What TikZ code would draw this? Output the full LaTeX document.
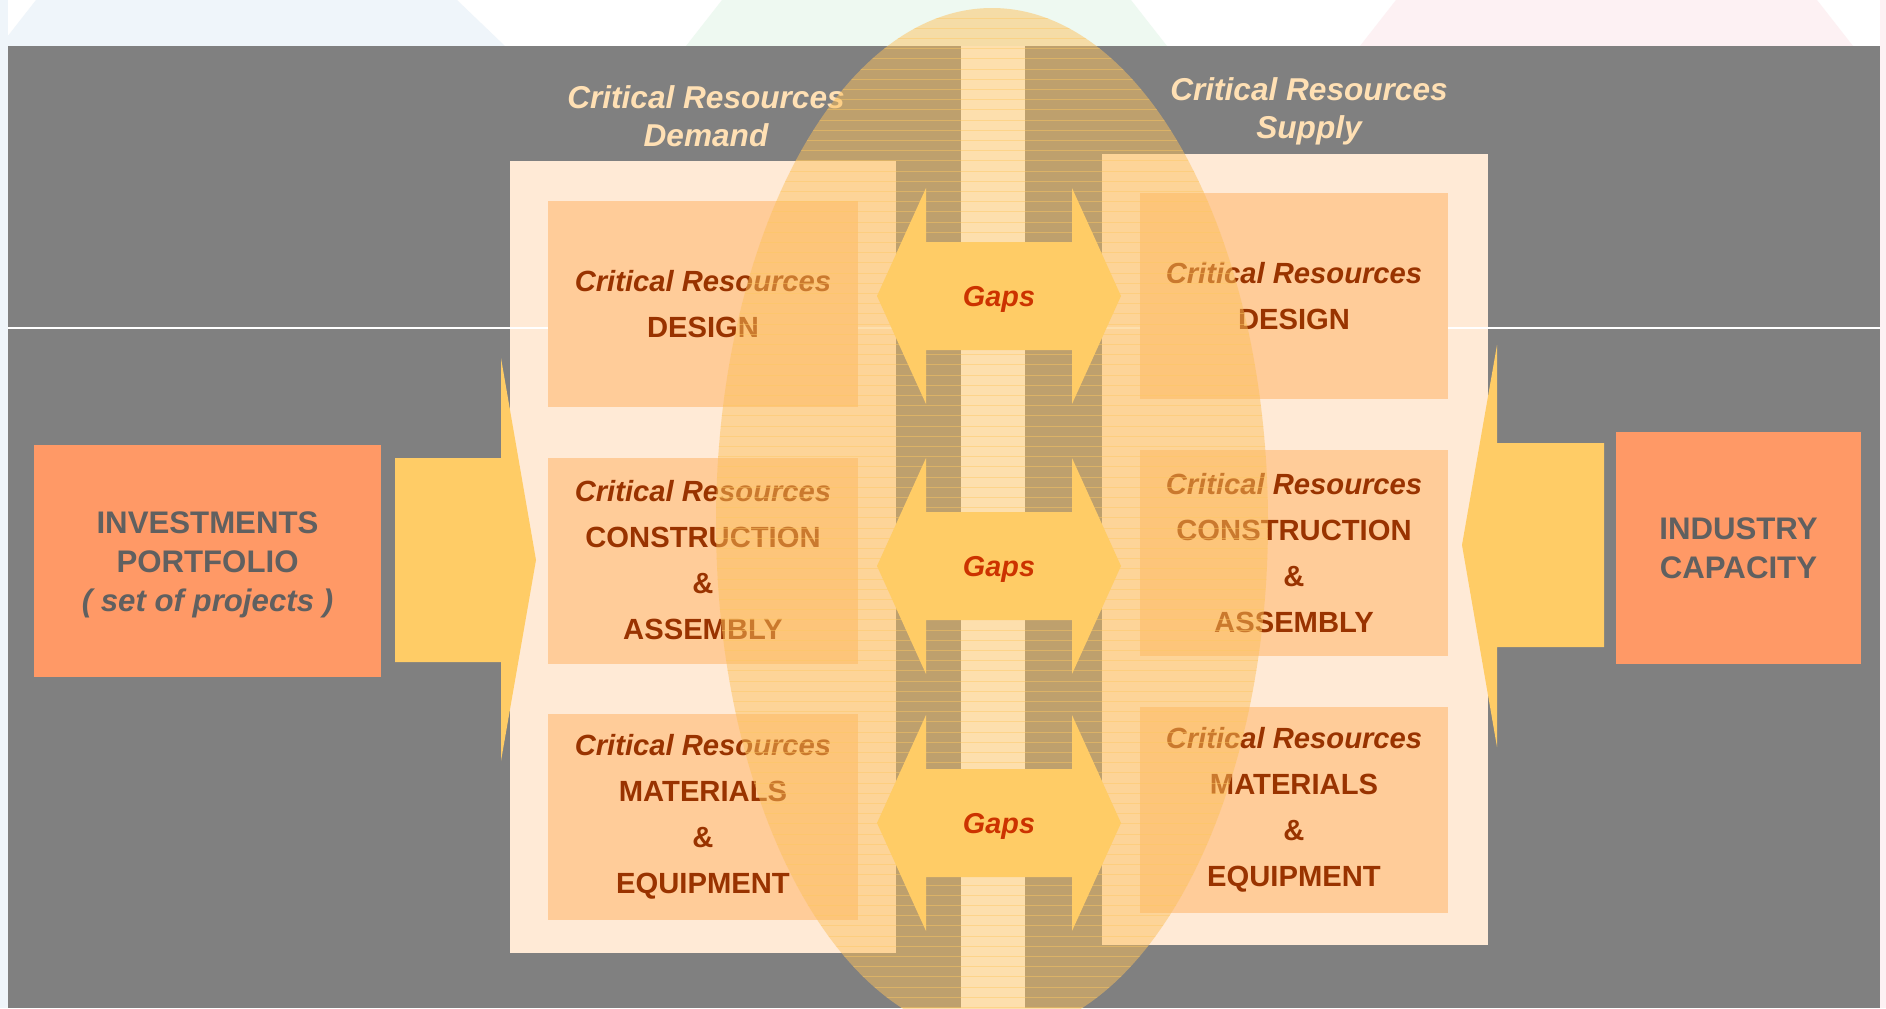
\documentclass[tikz,border=0pt]{standalone}
\usepackage{fontspec}
\setmainfont{Liberation Sans}
\usepackage{tikz}
\usetikzlibrary{positioning, calc}
\definecolor{slideGray}{HTML}{808080}
\definecolor{panelCream}{HTML}{FFEAD6}
\definecolor{boxPeach}{HTML}{FFCC99}
\definecolor{boxOrange}{HTML}{FF9966}
\definecolor{arrowYellow}{HTML}{FFCC66}
\definecolor{textBrown}{HTML}{993300}
\definecolor{textGray}{HTML}{606060}
\definecolor{gapsRed}{HTML}{CC3300}
\definecolor{headPeach}{HTML}{FFE0B4}
\definecolor{ovalGold}{HTML}{FCC05C}
\definecolor{stripeGold}{HTML}{FFC861}
\definecolor{tintBlue}{HTML}{EFF5FA}
\definecolor{tintGreen}{HTML}{EEF9F1}
\definecolor{tintPink}{HTML}{FDF1F3}
\tikzset{
	panel/.style={fill=panelCream},
	resbox/.style={fill=boxPeach, text=textBrown, inner sep=0pt, align=center,
		minimum width=155pt, minimum height=103pt,
		font=\bfseries\fontsize{14.6}{23}\selectfont},
	endbox/.style={fill=boxOrange, text=textGray, inner sep=0pt, align=center,
		minimum height=116pt, font=\bfseries\fontsize{15.6}{19.4}\selectfont},
	headtext/.style={text=headPeach, inner sep=0pt, align=center,
		font=\bfseries\itshape\fontsize{15.8}{19}\selectfont},
	gapslabel/.style={text=gapsRed, inner sep=0pt,
		font=\bfseries\itshape\fontsize{14.4}{17}\selectfont},
	blockarrow/.style={fill=arrowYellow}
}

\begin{document}
\begin{tikzpicture}[x=0.5pt, y=-0.5pt]
	% IMAGE SIZE
	\newcommand{\picW}{1886} \newcommand{\picH}{1008}
	\useasboundingbox (0,0) rectangle (\picW,\picH);
	
	% Slide background
	\fill[white] (0,0) rectangle (\picW,\picH);
	\fill[tintBlue] (0,0) rectangle (8,\picH);
	\fill[tintBlue] (0,46) -- (505,46) -- (457,0) -- (36,0) -- cycle;
	\fill[tintGreen] (686,46) -- (1167,46) -- (1131,0) -- (722,0) -- cycle;
	\fill[tintPink] (1360,46) -- (1853,46) -- (1817,0) -- (1396,0) -- cycle;
	\fill[tintPink] (1880,0) rectangle (\picW,\picH);
	\fill[slideGray] (8,46) rectangle (1880,\picH);
	\fill[white] (961,46) rectangle (1025,\picH);
	
	% Demand and supply panels
	\fill[panel] (510,161) rectangle (896,953);
	\fill[panel] (1102,154) rectangle (1488,945);
	\draw[white, line width=0.75pt] (8,328) -- (1880,328);
	
	% Panel titles
	\node[headtext] (demandTitle) at (706,116) {Critical Resources\\Demand};
	\node[headtext] (supplyTitle) at (1309,111) {Critical Resources\\Supply};
	
	% Resource boxes
	\node[resbox] (dDesign) at (703,304) {\textit{Critical Resources}\\DESIGN};
	\node[resbox] (dBuild) at (703,560.5) {\textit{Critical Resources}\\CONSTRUCTION\\\&\\ASSEMBLY};
	\node[resbox] (dMaterial) at (703,817) {\textit{Critical Resources}\\MATERIALS\\\&\\EQUIPMENT};
	\node[resbox, minimum width=154pt] (sDesign) at (1294,296) {\textit{Critical Resources}\\DESIGN};
	\node[resbox, minimum width=154pt] (sBuild) at (1294,553) {\textit{Critical Resources}\\CONSTRUCTION\\\&\\ASSEMBLY};
	\node[resbox, minimum width=154pt] (sMaterial) at (1294,809.5) {\textit{Critical Resources}\\MATERIALS\\\&\\EQUIPMENT};
	
	% Portfolio and capacity
	\node[endbox, minimum width=173.5pt] (invest) at (207.5,561) {};
	\node[text=textGray, align=center, inner sep=0pt, font=\bfseries\fontsize{15.6}{19.4}\selectfont]
		(investText) at (207.5,565) {INVESTMENTS\\PORTFOLIO\\\textit{( set of projects )}};
	\node[endbox, minimum width=122.5pt] (capacity) at (1738.5,548) {INDUSTRY\\CAPACITY};
	
	% Block arrows into the panels
	\fill[blockarrow] (395,458) -- (501,458) -- (501,358) -- (536,560) -- (501,761) -- (501,662) -- (395,662) -- cycle;
	\fill[blockarrow] (1604,443) -- (1497,443) -- (1497,345) -- (1462,545) -- (1497,747) -- (1497,647) -- (1604,647) -- cycle;
	
	% Gap oval
	\fill[ovalGold, fill opacity=0.5] (992,522) ellipse [x radius=138pt, y radius=257pt];
	\begin{scope}
		\clip (992,522) ellipse [x radius=138pt, y radius=257pt];
		\foreach \k in {0,...,101}
		{
			\draw[stripeGold, line width=0.5pt, opacity=0.45] (700,{18+10.2*\k}) -- (1290,{18+10.2*\k});
		}
	\end{scope}
	
	% Gaps arrows
	\foreach \cy/\name in {296/gapsA, 566/gapsB, 823/gapsC}
	{
		\fill[blockarrow] (877,\cy) -- (926,{\cy-108}) -- (926,{\cy-54}) -- (1072,{\cy-54}) -- (1072,{\cy-108})
			-- (1121,\cy) -- (1072,{\cy+108}) -- (1072,{\cy+54}) -- (926,{\cy+54}) -- (926,{\cy+108}) -- cycle;
		\node[gapslabel] (\name) at (999,{\cy+3.5}) {Gaps};
	}
\end{tikzpicture}
\end{document}
